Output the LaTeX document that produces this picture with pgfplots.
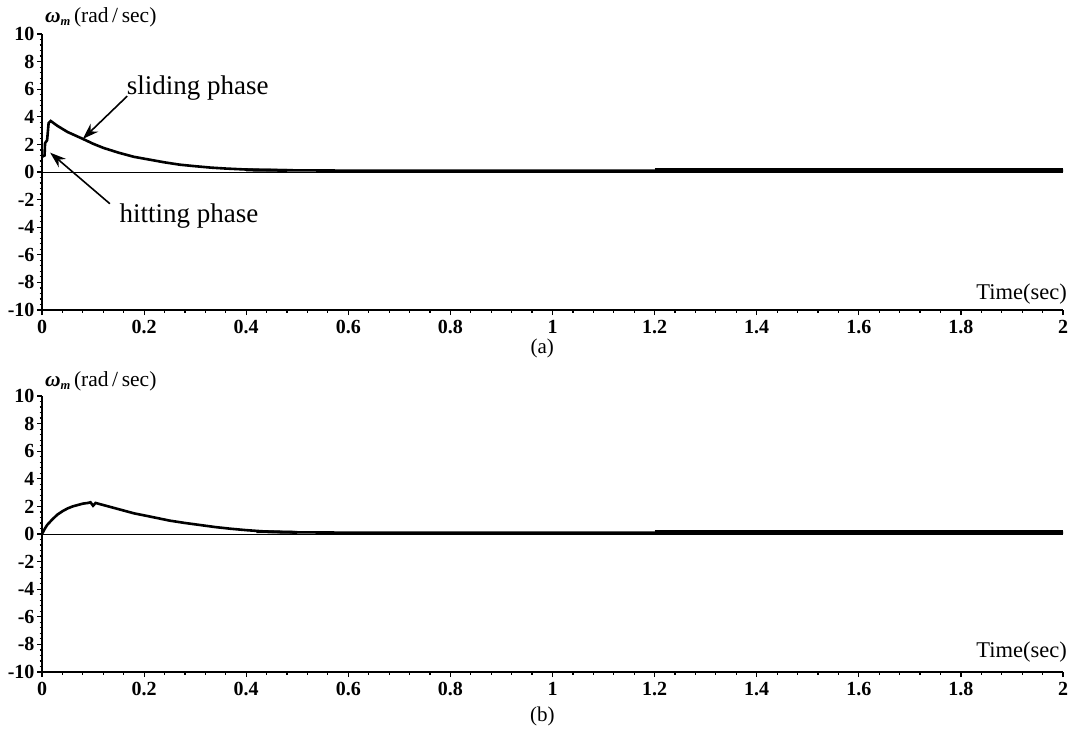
\documentclass[border=0pt]{standalone}
\usepackage{pgfplots}
\pgfplotsset{compat=1.18}
\usepackage{fontspec}
\setmainfont{Liberation Serif}
\usetikzlibrary{arrows.meta}
\pgfplotstableread{
t y
0 1.1
0.005 1.2
0.006 2.1
0.010 2.3
0.013 3.55
0.017 3.7
0.03 3.35
0.05 2.9
0.08 2.4
0.10 2.05
0.12 1.75
0.15 1.4
0.18 1.1
0.21 0.9
0.24 0.7
0.27 0.53
0.30 0.42
0.33 0.32
0.36 0.25
0.40 0.18
0.45 0.14
0.50 0.12
0.60 0.1
0.80 0.1
1.00 0.1
1.20 0.1
2.00 0.1
}\dataA
\pgfplotstableread{
t y
0 0
0.005 0.35
0.010 0.65
0.020 1.05
0.030 1.4
0.040 1.65
0.050 1.85
0.060 2.0
0.070 2.1
0.080 2.2
0.090 2.25
0.095 2.3
0.100 2.05
0.105 2.25
0.120 2.1
0.140 1.9
0.160 1.7
0.180 1.5
0.200 1.35
0.220 1.2
0.250 0.97
0.280 0.8
0.310 0.65
0.340 0.5
0.370 0.38
0.400 0.28
0.430 0.2
0.460 0.15
0.500 0.12
0.600 0.1
1.000 0.1
2.000 0.1
}\dataB
\newcommand{\ylab}{{\bfseries\itshape ω}\raisebox{-0.3ex}{\fontsize{12.5}{12.5}\selectfont\bfseries\itshape m}\,(rad\,/\,sec)}
\pgfplotsset{
  panel/.style={
    x=510.5pt, y=13.8pt,
    xmin=0, xmax=2, ymin=-10, ymax=10,
    axis lines*=left,
    axis line style={line width=1.6pt},
    xtick={0,0.2,...,2.01}, ytick={-10,-8,...,10},
    minor x tick num=4, minor y tick num=4,
    tick align=outside,
    major tick length=5pt, minor tick length=2.5pt,
    every tick/.style={black, line width=1.2pt},
    /pgf/number format/assume math mode=true,
    /pgf/number format/fixed,
    xticklabel style={font=\bfseries\fontsize{20}{20}\selectfont, yshift=-2pt},
    yticklabel style={font=\bfseries\fontsize{20}{20}\selectfont, xshift=1pt},
    clip=false,
  }
}
\begin{document}
\begin{tikzpicture}
\path[use as bounding box] (-42pt,-422pt) rectangle (1027pt,310pt);
% (a)
\begin{axis}[panel, at={(0,0)}, anchor=south west]
\addplot[black, line width=1pt] coordinates {(0,0) (2,0)};
\addplot[black, line width=2.6pt] table {\dataA};
\addplot[black, line width=3pt] coordinates {(0.4,0.15) (0.48,0.12)};
\addplot[black, line width=4.5pt] coordinates {(1.2,0.14) (2,0.14)};
\draw[line width=1.6pt, -{Stealth[length=16pt,width=11pt]}] (axis cs:0.167,5.5) -- (axis cs:0.08,2.4);
\draw[line width=1.6pt, -{Stealth[length=16pt,width=11pt]}] (axis cs:0.133,-2.3) -- (axis cs:0.016,1.4);
\node[font=\fontsize{27}{27}\selectfont, inner sep=0pt] at (axis cs:0.305,6.1) {sliding phase};
\node[font=\fontsize{27}{27}\selectfont, inner sep=0pt] at (axis cs:0.288,-3.2) {hitting phase};
\node[font=\fontsize{22.5}{22.5}\selectfont, anchor=south east, inner sep=0pt] at (axis cs:2.008,-9.6) {Time(sec)};
\node[font=\fontsize{21}{21}\selectfont] at (axis cs:0.98,-12.75) {(a)};
\end{axis}
% (b)
\begin{axis}[panel, at={(0,-362pt)}, anchor=south west]
\addplot[black, line width=1pt] coordinates {(0,0) (2,0)};
\addplot[black, line width=2.6pt] table {\dataB};
\addplot[black, line width=3pt] coordinates {(0.42,0.18) (0.5,0.12)};
\addplot[black, line width=4.5pt] coordinates {(1.2,0.14) (2,0.14)};
\node[font=\fontsize{22.5}{22.5}\selectfont, anchor=south east, inner sep=0pt] at (axis cs:2.008,-9.3) {Time(sec)};
\node[font=\fontsize{21}{21}\selectfont] at (axis cs:0.98,-13.2) {(b)};
\end{axis}
\node[font=\fontsize{21.5}{21.5}\selectfont, anchor=west, inner sep=0pt] at (3pt,293pt) {\ylab};
\node[font=\fontsize{21.5}{21.5}\selectfont, anchor=west, inner sep=0pt] at (3pt,-71pt) {\ylab};
\end{tikzpicture}
\end{document}
